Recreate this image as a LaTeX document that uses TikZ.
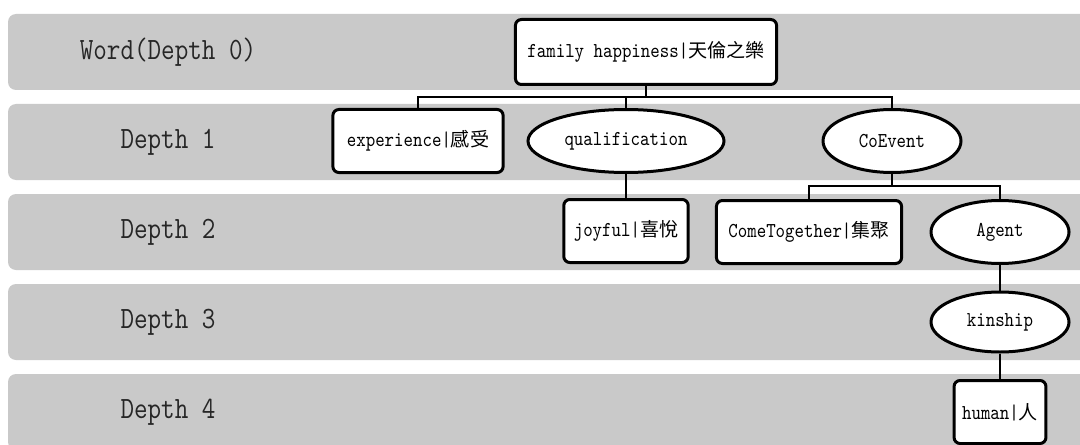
\documentclass[tikz,border=0pt]{standalone}
\usepackage{fontspec}
\setmainfont[FakeStretch=0.85]{Latin Modern Mono}
\newfontfamily\cjk[Scale=0.9]{Noto Sans CJK TC}
\usetikzlibrary{positioning,shapes.geometric}
\definecolor{bandgray}{RGB}{201,201,201}

\begin{document}
\begin{tikzpicture}[x=0.5pt,y=-0.5pt,node distance=45pt,on grid,
	band/.style={fill=bandgray,rounded corners=4pt},
	depthlabel/.style={font=\fontsize{15.5}{18}\selectfont,text=black!85},
	wordbox/.style={draw,rectangle,rounded corners=3pt,fill=white,line width=1.5pt,minimum height=31.5pt,inner xsep=6pt,font=\fontsize{10.6}{12}\selectfont},
	relation/.style={draw,ellipse,fill=white,line width=1.5pt,minimum width=69pt,minimum height=31.5pt,inner sep=0pt,font=\fontsize{10.6}{12}\selectfont},
	link/.style={line width=1.3pt}]
	\useasboundingbox (0,0) rectangle (1080,444);
	\clip (0,0) rectangle (1080,444);
	% depth bands
	\foreach \d/\txt in {0/Word(Depth 0),1/Depth 1,2/Depth 2,3/Depth 3,4/Depth 4}{
		\fill[band] (8,14+90*\d) rectangle (1100,90+90*\d);
		\node[depthlabel] (depth\d) at (168,52+90*\d) {\txt};
	}
	% tree
	\node[wordbox,minimum height=32.5pt] (word) at (646,52) {family happiness|{\cjk 天倫之樂}};
	\node[wordbox,inner xsep=7pt] (experience) at (418,141) {experience|{\cjk 感受}};
	\node[relation,minimum width=98pt] (qualification) at (626,141) {qualification};
	\node[relation] (coevent) at (892,141) {CoEvent};
	\node[wordbox,inner xsep=5pt] (joyful) [below=of qualification] {joyful|{\cjk 喜悅}};
	\node[wordbox] (cometogether) at (809,232) {ComeTogether|{\cjk 集聚}};
	\node[relation] (agent) at (1000,232) {Agent};
	\node[relation,minimum height=30pt] (kinship) [below=of agent] {kinship};
	\node[wordbox,inner xsep=4pt] (human) [below=of kinship] {human|{\cjk 人}};
	\coordinate (fork0) at (646,97);
	\coordinate (fork1) at (892,186);
	\draw[link] (word.south) -- (fork0) -| (experience.north);
	\draw[link] (fork0) -| (qualification.north);
	\draw[link] (fork0) -| (coevent.north);
	\draw[link] (qualification.south) -- (joyful.north);
	\draw[link] (coevent.south) -- (fork1) -| (cometogether.north);
	\draw[link] (fork1) -| (agent.north);
	\draw[link] (agent.south) -- (kinship.north);
	\draw[link] (kinship.south) -- (human.north);
\end{tikzpicture}
\end{document}
